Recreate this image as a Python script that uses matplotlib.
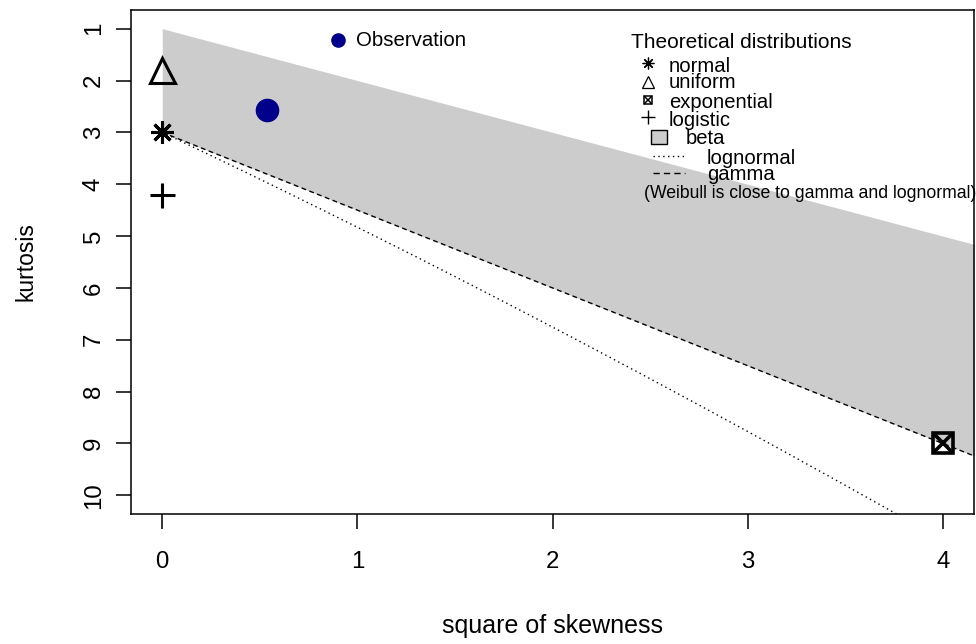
import numpy as np
import matplotlib
matplotlib.use("Agg")
import matplotlib.pyplot as plt
import matplotlib.transforms as mtransforms
from matplotlib.patches import Rectangle
from matplotlib.lines import Line2D

plt.rcParams['font.family'] = ['Liberation Sans', 'DejaVu Sans']

# Reference distributions: (square of skewness, kurtosis)
dist_labels = ["normal", "uniform", "exponential", "logistic"]
dist_skew2 = [0.0, 0.0, 4.0, 0.0]
dist_kurt = [3.0, 1.8, 9.0, 4.2]

# Observed sample
obs_skew2 = [0.535]
obs_kurt = [2.57]

x_ticks = [0, 1, 2, 3, 4]
y_ticks = [1, 2, 3, 4, 5, 6, 7, 8, 9, 10]

legend_title = "Theoretical distributions"
legend_labels = ["normal", "uniform", "exponential", "logistic",
                 "beta", "lognormal", "gamma"]
legend_note = "(Weibull is close to gamma and lognormal)"

W, H = 976, 644
fig = plt.figure(figsize=(W / 100, H / 100), dpi=100)
ax = fig.add_axes([131 / W, (H - 514) / H, 843 / W, 504 / H])
ax.set_xlim(-0.16, 4.16)
ax.set_ylim(10.36, 0.64)

# pixel-style coordinates (origin top-left) for free-floating annotations
pix = mtransforms.Affine2D().scale(1 / W, -1 / H).translate(0, 1) + fig.transFigure

# beta region: between the lower kurtosis bound and the gamma line
s2 = np.linspace(0, 5, 300)
kurt_bound = 1 + s2
gamma_kurt = 3 + 1.5 * s2
ax.fill_between(s2, kurt_bound, gamma_kurt, color="#cccccc", lw=0, zorder=1)
ax.plot(s2, gamma_kurt, color="k", lw=1.0, ls=(0, (3.5, 2.5)), zorder=2)

# lognormal curve, parametrised by w = exp(sigma^2)
w = np.linspace(1, 1.5, 500)
ln_s2 = (w + 2) ** 2 * (w - 1)
ln_kurt = w ** 4 + 2 * w ** 3 + 3 * w ** 2 - 3
ax.plot(ln_s2, ln_kurt, color="k", lw=1.0, ls=(0, (1, 2.5)), zorder=2)

styles = {
    "normal": [dict(marker=(8, 2, 0), ms=16, mew=2.2)],
    "uniform": [dict(marker="^", ms=18, mew=2.2, mfc="none")],
    "exponential": [dict(marker="s", ms=14.5, mew=2.6, mfc="none"),
                    dict(marker="x", ms=14.5, mew=2.6)],
    "logistic": [dict(marker="+", ms=18, mew=2.2)],
}
legend_styles = {
    "normal": [dict(marker=(8, 2, 0), ms=8.5, mew=0.9)],
    "uniform": [dict(marker="^", ms=8, mew=0.9, mfc="none")],
    "exponential": [dict(marker="s", ms=6, mew=1.1, mfc="none"),
                    dict(marker="x", ms=6, mew=1.1)],
    "logistic": [dict(marker="+", ms=10.5, mew=1.0)],
}

for name, sx, ky in zip(dist_labels, dist_skew2, dist_kurt):
    for st in styles[name]:
        ax.plot([sx], [ky], color="k", ls="none", zorder=4, clip_on=False, **st)

ax.plot(obs_skew2, obs_kurt, ls="none", marker="o", ms=16, color="#00008B", zorder=5)

# observation key
ax.add_line(Line2D([338], [40], transform=pix, ls="none", marker="o", ms=9.5,
                   color="#00008B", clip_on=False))
ax.text(356, 40, "Observation", transform=pix, fontsize=14.7, va="center", ha="left")

# theoretical distributions key
ax.text(631, 42, legend_title, transform=pix, fontsize=15, va="center", ha="left")
row_y = [66, 83, 102, 120, 138, 158, 174]
sym_y = [63, 82, 100, 117, 137, 156, 173]
text_x = [669, 669, 669, 669, 686, 707, 707]
for i, lab in enumerate(legend_labels):
    ax.text(text_x[i], row_y[i], lab, transform=pix, fontsize=14.6, va="center", ha="left")
    if lab in legend_styles:
        for st in legend_styles[lab]:
            ax.add_line(Line2D([648], [sym_y[i]], transform=pix, ls="none",
                               color="k", clip_on=False, **st))
ax.add_patch(Rectangle((651, 130), 16, 14, transform=pix, facecolor="#cccccc",
                       edgecolor="k", lw=1.0, clip_on=False, zorder=6))
ax.add_line(Line2D([653, 685], [156, 156], transform=pix, color="k", lw=1.0,
                   ls=(0, (1, 2.5)), clip_on=False))
ax.add_line(Line2D([653, 685], [173, 173], transform=pix, color="k", lw=1.0,
                   ls=(0, (4.5, 3)), clip_on=False))
ax.text(644, 193, legend_note, transform=pix, fontsize=12.7, va="center", ha="left")

ax.set_xticks(x_ticks)
ax.set_yticks(y_ticks)
ax.tick_params(direction="out", length=10.8, width=1.1, labelsize=17.3, color="k")
ax.tick_params(axis="x", pad=16)
ax.tick_params(axis="y", pad=8, labelrotation=90)
for lbl in ax.get_yticklabels():
    lbl.set_va("center")
for sp in ax.spines.values():
    sp.set_linewidth(1.1)

ax.set_xlabel("square of skewness", fontsize=18)
ax.set_ylabel("kurtosis", fontsize=16.5)
ax.xaxis.set_label_coords(0.5, -0.198)
ax.yaxis.set_label_coords(-0.111, 0.5)

fig.savefig("out.png", dpi=100)
